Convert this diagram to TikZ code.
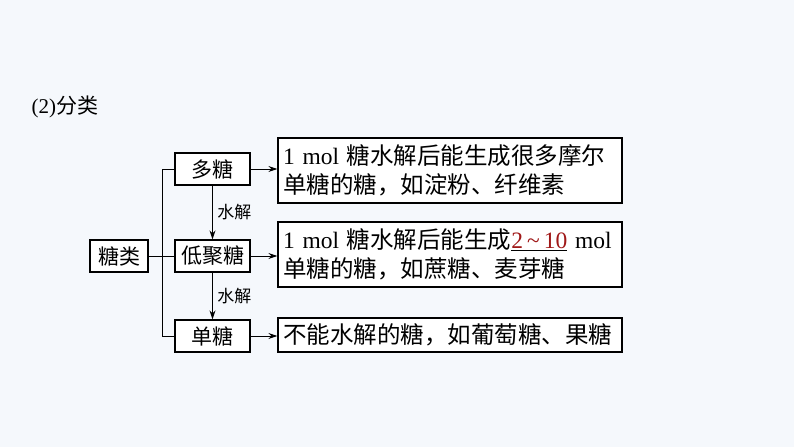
\documentclass[tikz,border=0pt]{standalone}
\usepackage{fontspec}
\setmainfont{Liberation Serif}
\newfontfamily\cjk{Noto Sans CJK SC}
\usetikzlibrary{arrows.meta}
\definecolor{bg}{HTML}{F5F8FC}
\definecolor{dred}{HTML}{A01818}
\tikzset{
 box/.style={draw,line width=1.3pt,fill=white,minimum height=32pt,inner sep=1pt,font=\fontsize{21}{24}\selectfont\cjk},
 bigbox/.style={draw,line width=1.3pt,fill=white,minimum width=344pt,text width=334pt,align=left,inner xsep=5pt,inner ysep=3pt,font=\fontsize{23.5}{29}\selectfont},
 ln/.style={line width=1pt},
 arr/.style={ln,-{Stealth[length=9pt,width=6pt]}},
 lab/.style={font=\fontsize{17}{20}\selectfont\cjk}
}
\begin{document}
\begin{tikzpicture}[x=1pt,y=-1pt]
\fill[bg] (0,0) rectangle (794,447);
\useasboundingbox (0,0) rectangle (794,447);
\node[anchor=west,font=\fontsize{21}{24}\selectfont] (t) at (28,107) {(2)\cjk 分类};
\node[box,minimum width=58pt] (lei) at (119,256) {糖类};
\node[box,minimum width=75pt] (duo) at (212.5,169) {多糖};
\node[box,minimum width=75pt] (di) at (212.5,256) {低聚糖};
\node[box,minimum width=75pt] (dan) at (212.5,336) {单糖};
\node[bigbox,minimum height=65pt] (r1) at (450,170.5) {1 mol {\cjk 糖水解后能生成很多摩尔}\\{\cjk 单糖的糖，如淀粉、纤维素}};
\node[bigbox,minimum height=65pt] (r2) at (450,254.5) {1 mol {\cjk 糖水解后能生成}\underline{\textcolor{dred}{2\,\textasciitilde\,10}} mol\\{\cjk 单糖的糖，如蔗糖、麦芽糖}};
\node[bigbox,minimum height=34pt] (r3) at (450,335) {{\cjk 不能水解的糖，如葡萄糖、果糖}};
\coordinate (top) at (162,169);
\coordinate (bot) at (162,336);
\draw[ln] (lei.east) -- (di.west);
\draw[ln] (duo.west) -- (top) -- (bot) -- (dan.west);
\draw[arr] (duo.east) -- (r1.west|-duo.east);
\draw[arr] (di.east) -- (r2.west|-di.east);
\draw[arr] (dan.east) -- (r3.west|-dan.east);
\draw[arr] (duo.south) -- node[lab,right=1pt] {水解} (di.north);
\draw[arr] (di.south) -- node[lab,right=1pt] {水解} (dan.north);
\end{tikzpicture}
\end{document}
